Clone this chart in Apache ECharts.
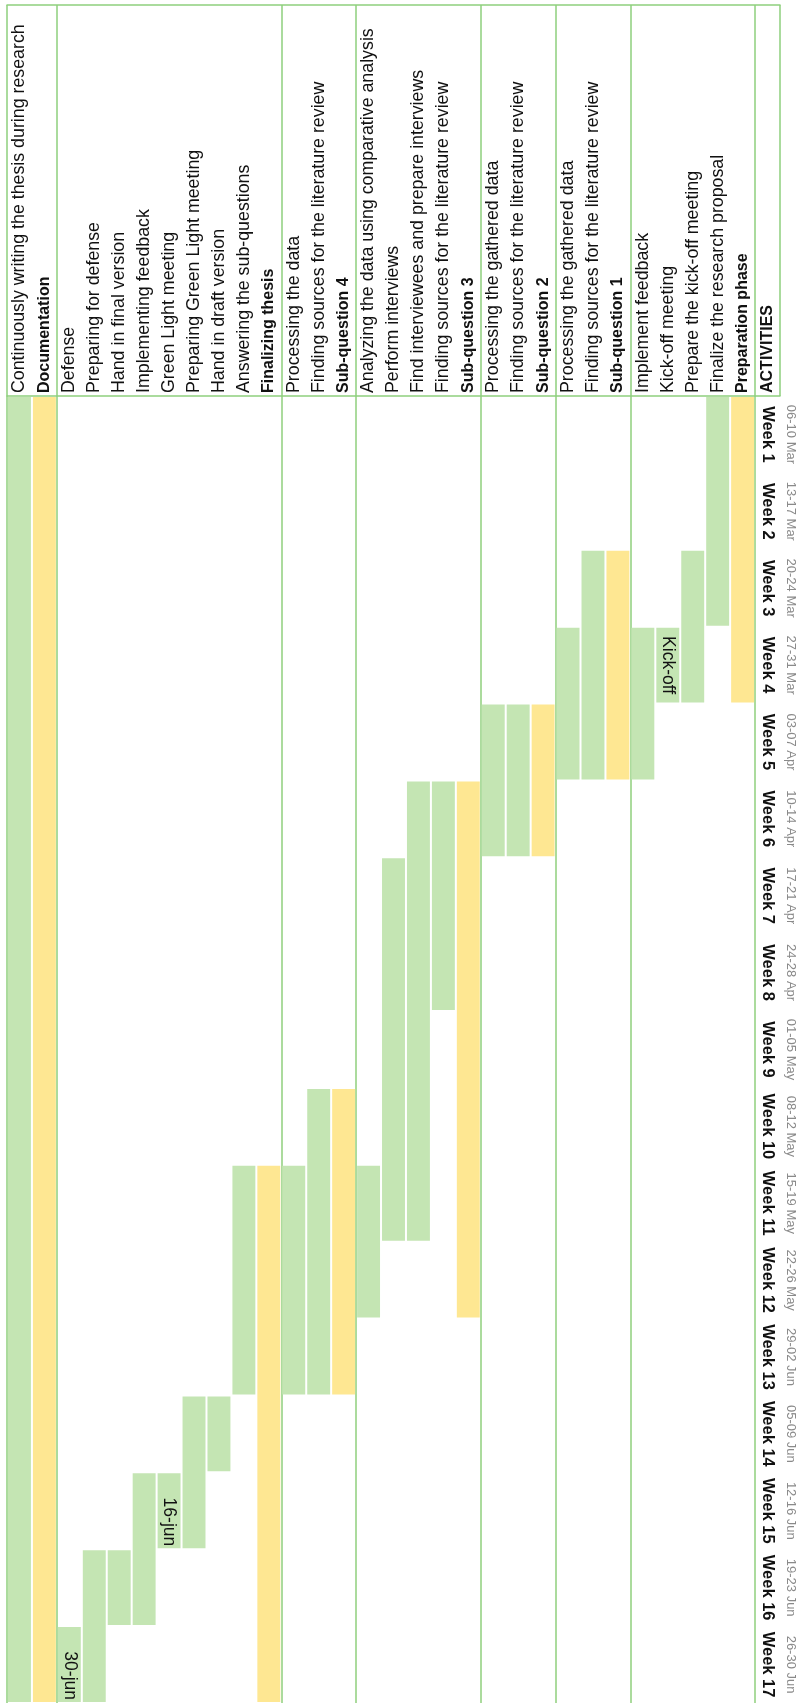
<!DOCTYPE html>
<html>
<head>
<meta charset="utf-8">
<script src="https://cdn.jsdelivr.net/npm/echarts@6/dist/echarts.min.js"></script>
<style>
html,body{margin:0;padding:0;background:#ffffff;}
#chart{width:800px;height:1703px;}
</style>
</head>
<body>
<div id="chart"></div>
<script>
// ---------------- data ----------------
const activities = [
  'ACTIVITIES',
  'Preparation phase',
  'Finalize the research proposal',
  'Prepare the kick-off meeting',
  'Kick-off meeting',
  'Implement feedback',
  'Sub-question 1',
  'Finding sources for the literature review',
  'Processing the gathered data',
  'Sub-question 2',
  'Finding sources for the literature review',
  'Processing the gathered data',
  'Sub-question 3',
  'Finding sources for the literature review',
  'Find interviewees and prepare interviews',
  'Perform interviews',
  'Analyzing the data using comparative analysis',
  'Sub-question 4',
  'Finding sources for the literature review',
  'Processing the data',
  'Finalizing thesis',
  'Answering the sub-questions',
  'Hand in draft version',
  'Preparing Green Light meeting',
  'Green Light meeting',
  'Implementing feedback',
  'Hand in final version',
  'Preparing for defense',
  'Defense',
  'Documentation',
  'Continuously writing the thesis during research'
];
// rows that are section headers (bold label, yellow bar, section divider)
const headerRows = [0, 1, 6, 9, 12, 17, 20, 29];
// first and last week (1-based) of each activity
const startWeek = [null,1,1,3,4,4,3,3,4,5,5,5,6,6,6,7,11,10,10,11,11,11,14,14,15,15,16,16,17,1,1];
const endWeek   = [null,4,3,4,4,5,5,5,5,6,6,6,12,8,11,11,12,13,13,13,17,13,14,15,15,16,16,17,17,17,17];
// text written inside some bars
const barText = {4: 'Kick-off', 24: '16-jun', 28: '30-jun'};

const weekLabels = ['Week 1','Week 2','Week 3','Week 4','Week 5','Week 6','Week 7','Week 8','Week 9',
  'Week 10','Week 11','Week 12','Week 13','Week 14','Week 15','Week 16','Week 17'];
const weekDates = ['06-10 Mar','13-17 Mar','20-24 Mar','27-31 Mar','03-07 Apr','10-14 Apr','17-21 Apr',
  '24-28 Apr','01-05 May','08-12 May','15-19 May','22-26 May','29-02 Jun','05-09 Jun','12-16 Jun',
  '19-23 Jun','26-30 Jun'];

// ---------------- style ----------------
const FONT = 'Liberation Sans, Arial, Helvetica, sans-serif';
const LINE = '#8fcf7d';
const GREEN = '#c4e5b3';
const YELLOW = '#fee792';
const GRID_TOP = 396;
const TABLE_TOP = 5;

const barData = [];
activities.forEach(function (name, i) {
  if (startWeek[i] == null) return;
  barData.push([i, startWeek[i] - 1, endWeek[i] - 1, barText[i] || '', headerRows.indexOf(i) >= 0 ? 1 : 0]);
});

const isDivider = function (idx) { return headerRows.indexOf(idx) >= 0; };

const chart = echarts.init(document.getElementById('chart'), null, {renderer: 'canvas'});
chart.setOption({
  animation: false,
  backgroundColor: '#ffffff',
  grid: {left: 7, right: 20, top: GRID_TOP, bottom: 0, containLabel: false, outerBoundsMode: 'none'},
  xAxis: [{
    type: 'category',
    data: activities.map(function (a, i) {
      return isDivider(i) ? {value: a, textStyle: {fontWeight: 'bold', fontSize: 16}} : a;
    }),
    position: 'top',
    inverse: true,
    boundaryGap: true,
    axisLine: {show: true, lineStyle: {color: LINE, width: 1.5}},
    axisTick: {show: true, interval: isDivider, length: GRID_TOP - TABLE_TOP, lineStyle: {color: LINE, width: 1.5}},
    splitLine: {show: true, interval: function (i) { return i > 0 && isDivider(i); }, lineStyle: {color: LINE, width: 1.5}},
    axisLabel: {interval: 0, rotate: -90, margin: 3, fontSize: 17.8, color: '#111', fontFamily: FONT, hideOverlap: false}
  }, {
    type: 'category',
    data: activities,
    position: 'top',
    inverse: true,
    offset: GRID_TOP - TABLE_TOP,
    axisLine: {show: true, lineStyle: {color: LINE, width: 1.5}},
    axisTick: {show: false},
    axisLabel: {show: false},
    splitLine: {show: false}
  }],
  yAxis: [{
    type: 'category',
    data: weekLabels,
    inverse: true,
    position: 'right',
    axisLine: {show: false},
    axisTick: {show: false},
    splitLine: {show: false},
    axisLabel: {interval: 0, inside: true, rotate: -90, margin: 4, fontSize: 16.5, fontWeight: 'bold', color: '#111', fontFamily: FONT, hideOverlap: false}
  }, {
    type: 'category',
    data: weekDates,
    inverse: true,
    position: 'right',
    axisLine: {show: false},
    axisTick: {show: false},
    splitLine: {show: false},
    axisLabel: {interval: 0, rotate: -90, margin: 4, fontSize: 13, color: '#8a8a8a', fontFamily: FONT, hideOverlap: false}
  }],
  series: [{
    type: 'custom',
    xAxisIndex: 0,
    yAxisIndex: 0,
    data: barData,
    encode: {x: 0, y: [1, 2]},
    renderItem: function (params, api) {
      const row = api.value(0);
      const s = api.value(1);
      const e = api.value(2);
      const text = barData[params.dataIndex][3];
      const header = barData[params.dataIndex][4] === 1;
      const p0 = api.coord([row, s]);
      const p1 = api.coord([row, e]);
      const size = api.size([1, 1]);
      const bw = size[0], bh = size[1];
      const x = p0[0] - bw / 2 + 1;
      const w = bw - 2;
      const y0 = Math.min(p0[1], p1[1]) - bh / 2 + 1;
      const y1 = Math.max(p0[1], p1[1]) + bh / 2 - 1;
      const children = [{
        type: 'rect',
        shape: {x: x, y: y0, width: w, height: y1 - y0},
        style: {fill: header ? YELLOW : GREEN}
      }];
      if (text) {
        const endAligned = /\d/.test(text);
        children.push({
          type: 'text',
          x: p0[0],
          y: endAligned ? y1 - 2 : (y0 + y1) / 2,
          rotation: -Math.PI / 2,
          style: {
            text: text,
            fill: '#111',
            font: '17.5px ' + FONT,
            align: endAligned ? 'right' : 'center',
            verticalAlign: 'middle'
          }
        });
      }
      return {type: 'group', children: children};
    }
  }]
});
</script>
</body>
</html>
